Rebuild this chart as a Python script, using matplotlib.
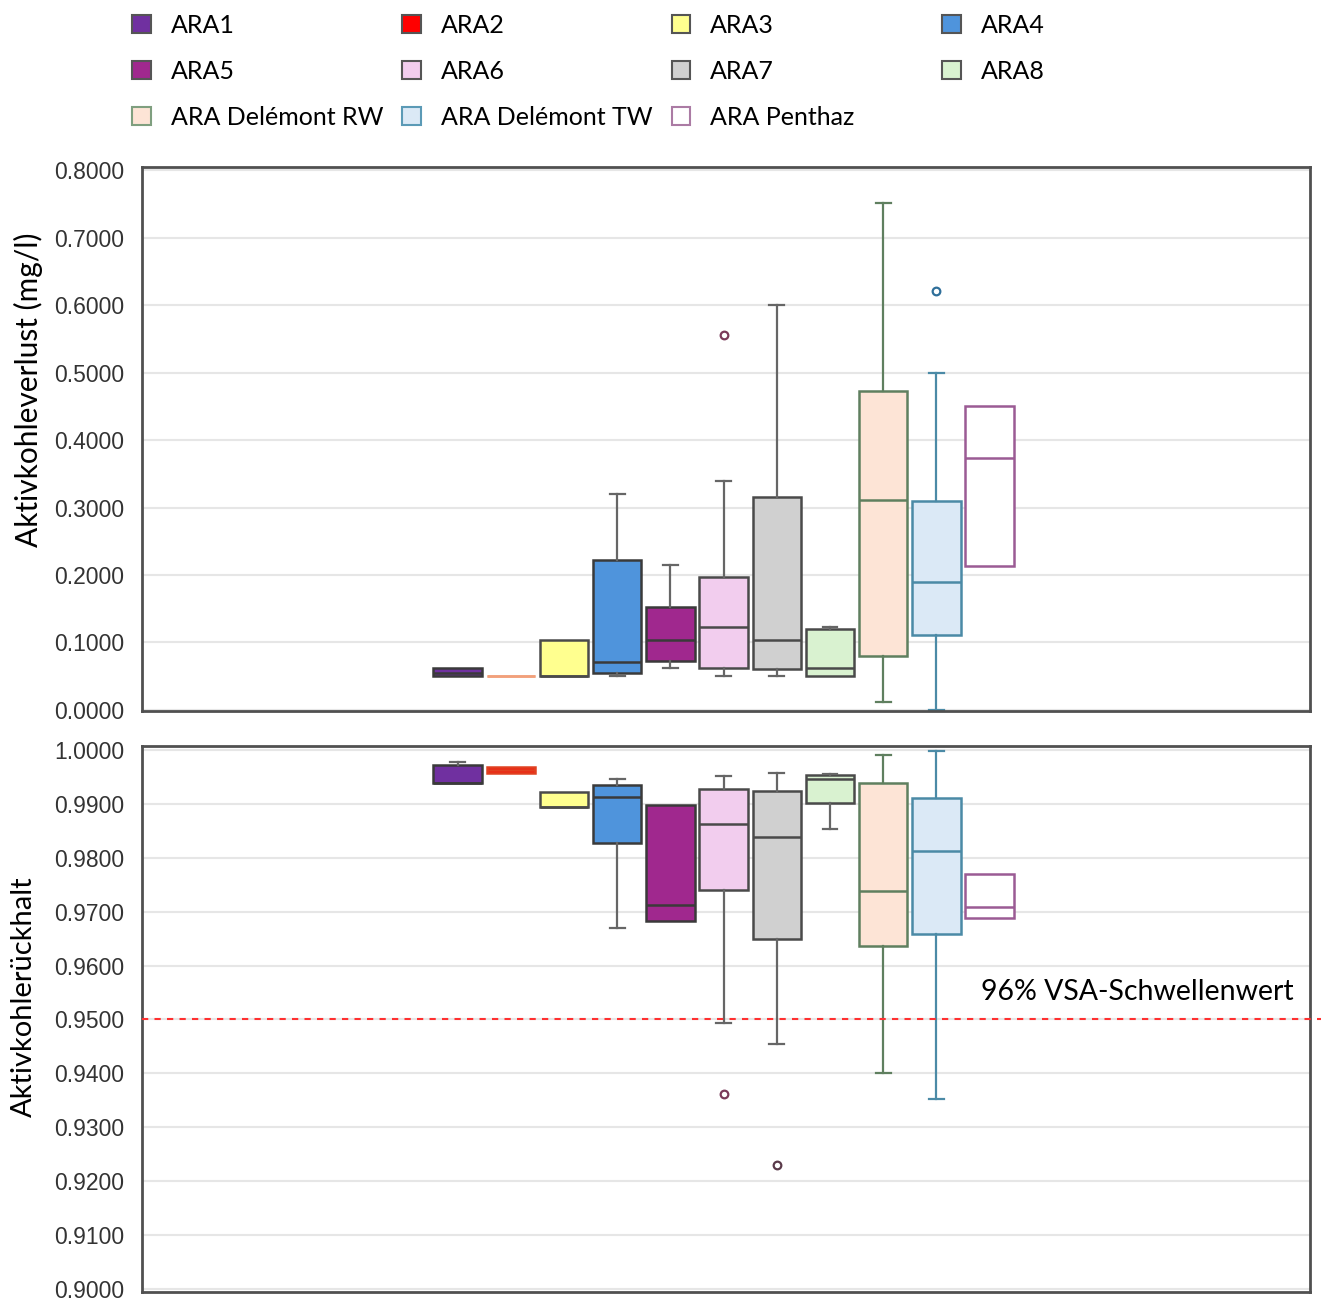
import matplotlib
matplotlib.use("Agg")
import matplotlib.pyplot as plt
from matplotlib.patches import Patch

# plant names (legend / box order)
names = ["ARA1", "ARA2", "ARA3", "ARA4", "ARA5", "ARA6", "ARA7", "ARA8",
         "ARA Delémont RW", "ARA Delémont TW", "ARA Penthaz"]

# Aktivkohleverlust (mg/l), box statistics
loss_lo = [0.050, 0.050, 0.050, 0.050, 0.062, 0.050, 0.050, 0.050, 0.012, 0.000, 0.213]
loss_q1 = [0.050, 0.050, 0.050, 0.055, 0.073, 0.062, 0.061, 0.050, 0.080, 0.111, 0.213]
loss_med = [0.055, 0.050, 0.050, 0.071, 0.104, 0.123, 0.104, 0.062, 0.311, 0.190, 0.373]
loss_q3 = [0.062, 0.050, 0.104, 0.222, 0.153, 0.197, 0.316, 0.120, 0.473, 0.310, 0.450]
loss_hi = [0.062, 0.050, 0.104, 0.320, 0.215, 0.339, 0.600, 0.123, 0.751, 0.499, 0.450]
loss_out = [[], [], [], [], [], [0.556], [], [], [], [0.621], []]

# Aktivkohlerückhalt
ret_lo = [0.9939, 0.9957, 0.9894, 0.9669, 0.9682, 0.9494, 0.9455, 0.9853, 0.9401, 0.9353, 0.9688]
ret_q1 = [0.9939, 0.9957, 0.9894, 0.9828, 0.9682, 0.9740, 0.9649, 0.9901, 0.9636, 0.9659, 0.9688]
ret_med = [0.9939, 0.9962, 0.9894, 0.9912, 0.9712, 0.9863, 0.9839, 0.9946, 0.9739, 0.9813, 0.9709]
ret_q3 = [0.9972, 0.9969, 0.9922, 0.9935, 0.9898, 0.9928, 0.9923, 0.9953, 0.9939, 0.9910, 0.9769]
ret_hi = [0.9978, 0.9969, 0.9922, 0.9946, 0.9898, 0.9951, 0.9957, 0.9956, 0.9991, 0.9998, 0.9769]
ret_out = [[], [], [], [], [], [0.9362], [0.9230], [], [], [], []]

threshold = 0.95
threshold_label = "96% VSA-Schwellenwert"

fills = ["#7030a0", "#ff0000", "#ffff8f", "#4f94dc", "#a0288e", "#f2cdee",
         "#d0d0d0", "#d9f2d0", "#fde4d6", "#dbe9f6", "#ffffff"]
edges = ["#3a3a3a", "#e04020", "#4a4a4a", "#3a3a3a", "#3a3a3a", "#4a4a4a",
         "#4a4a4a", "#4a4a4a", "#5f7f5f", "#4b8aa6", "#9b5b94"]
whisk = ["#666666"] * 8 + ["#5f7f5f", "#4b8aa6", "#9b5b94"]
flier_c = ["#555555"] * 5 + ["#7a3a5a", "#5a3a4a"] + ["#555555"] + ["#5f7f5f", "#2f6f9a", "#9b5b94"]

W, H = 1322, 1302
fig = plt.figure(figsize=(W / 100, H / 100), dpi=100)
ax1 = fig.add_axes([142 / W, 1 - 711 / H, 1168 / W, 544 / H])
ax2 = fig.add_axes([142 / W, 1 - 1292 / H, 1168 / W, 546 / H])

tick_font = "Liberation Sans"
text_font = "Lato"


def draw(ax, lo, q1, med, q3, hi, out, top_panel):
    for i in range(len(names)):
        st = dict(whislo=lo[i], q1=q1[i], med=med[i], q3=q3[i], whishi=hi[i], fliers=out[i])
        ec = edges[i]
        if top_panel and i == 1:
            ec = "#f2a07b"
        parts = ax.bxp([st], positions=[i + 1], widths=0.91, capwidths=0.28, patch_artist=True,
                       showfliers=True,
                       boxprops=dict(facecolor=fills[i], edgecolor=ec, linewidth=1.8),
                       medianprops=dict(color=ec, linewidth=1.8),
                       whiskerprops=dict(color=whisk[i], linewidth=1.6),
                       capprops=dict(color=whisk[i], linewidth=1.6),
                       flierprops=dict(marker="o", markerfacecolor="white",
                                       markeredgecolor=flier_c[i], markersize=5.5,
                                       markeredgewidth=1.6))
        # no cap where the whisker has zero length
        caps = parts["caps"]
        if lo[i] >= q1[i]:
            caps[0].set_visible(False)
        if hi[i] <= q3[i]:
            caps[1].set_visible(False)
    ax.set_xlim(-4.93, 17.02)
    ax.set_xticks([])
    ax.yaxis.grid(True, color="#e6e6e6", linewidth=1.5)
    ax.set_axisbelow(True)
    ax.tick_params(axis="y", length=0, pad=13, labelsize=16.5)
    for sp in ax.spines.values():
        sp.set_color("#505050")
        sp.set_linewidth(2)


draw(ax1, loss_lo, loss_q1, loss_med, loss_q3, loss_hi, loss_out, True)
ax1.set_ylim(-0.0015, 0.8045)
ax1.set_yticks([0.0, 0.1, 0.2, 0.3, 0.4, 0.5, 0.6, 0.7, 0.8])
ax1.set_yticklabels([f"{v:.4f}" for v in ax1.get_yticks()], fontfamily=tick_font, color="#333333")

draw(ax2, ret_lo, ret_q1, ret_med, ret_q3, ret_hi, ret_out, False)
ax2.set_ylim(0.89944, 1.00074)
ax2.set_yticks([0.90, 0.91, 0.92, 0.93, 0.94, 0.95, 0.96, 0.97, 0.98, 0.99, 1.00])
ax2.set_yticklabels([f"{v:.4f}" for v in ax2.get_yticks()], fontfamily=tick_font, color="#333333")

ax2.axhline(threshold, xmin=0, xmax=1.009, color="#ff3030", linestyle=(0, (3, 3)),
            linewidth=1.5, clip_on=False, zorder=5)
ax2.text(16.72, 0.9551, threshold_label, ha="right", va="center",
         fontsize=20.5, fontfamily=text_font)

fig.text(28 / W, 1 - 390 / H, "Aktivkohleverlust (mg/l)", rotation=90,
         ha="center", va="center", fontsize=21.5, fontfamily=text_font)
fig.text(24 / W, 1 - 997 / H, "Aktivkohlerückhalt", rotation=90,
         ha="center", va="center", fontsize=21, fontfamily=text_font)

# legend: first three columns, then a separate fourth column
leg_edges = ["#555555"] * 8 + ["#7f9f7f", "#5b9ab6", "#ab7ba4"]
handles = [Patch(facecolor=fills[i], edgecolor=leg_edges[i], linewidth=1.5) for i in range(len(names))]
order_a = [0, 4, 8, 1, 5, 9, 2, 6, 10]
order_b = [3, 7]
common = dict(frameon=False, handlelength=0.75, handleheight=0.75,
              handletextpad=0.8, labelspacing=0.92, borderpad=0, borderaxespad=0,
              prop=dict(family=text_font, size=18))
leg_a = fig.legend([handles[i] for i in order_a], [names[i] for i in order_a], ncol=3,
                   loc="upper left", bbox_to_anchor=(132 / W, 1 - 14 / H),
                   columnspacing=0.76, **common)
leg_b = fig.legend([handles[i] for i in order_b], [names[i] for i in order_b], ncol=1,
                   loc="upper left", bbox_to_anchor=(942 / W, 1 - 14 / H), **common)

fig.savefig("out.png", dpi=100)
